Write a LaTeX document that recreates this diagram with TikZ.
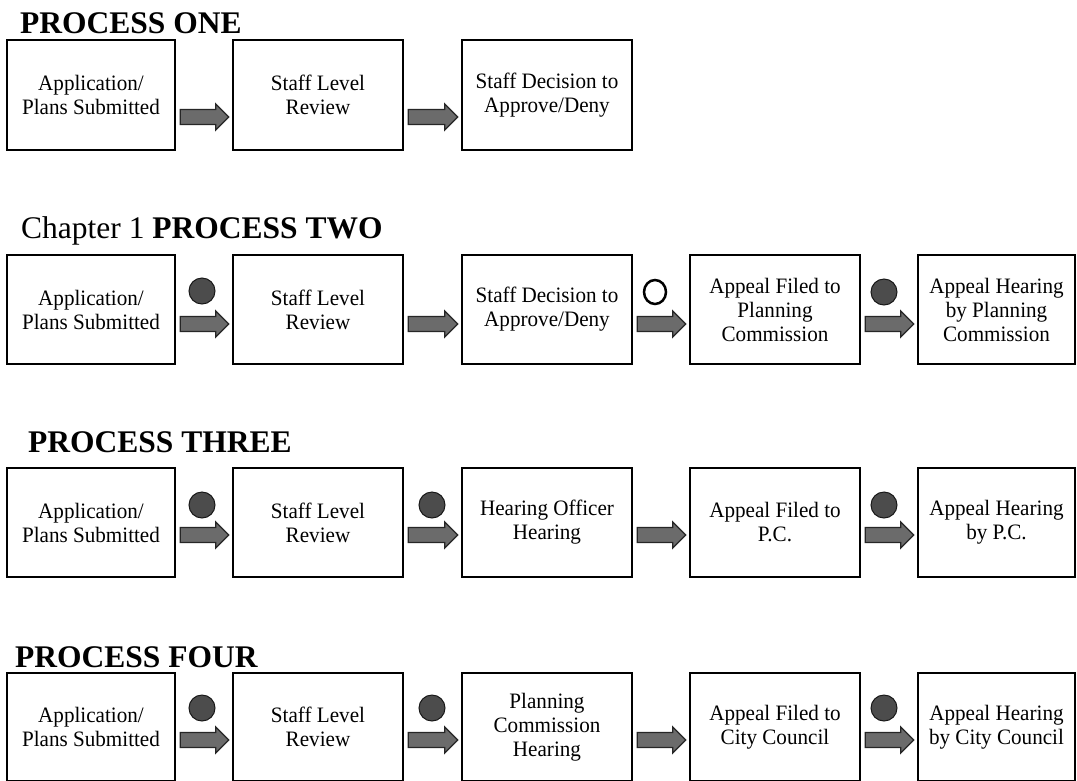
\documentclass[tikz,border=0pt]{standalone}
\usepackage{fontspec}
\setmainfont{Liberation Serif}
\newfontfamily\boxfont[FakeStretch=0.96]{Liberation Serif}
\usetikzlibrary{calc,shapes.geometric}
\tikzset{
  box/.style={draw=black, line width=2.6pt, fill=white, align=center,
    font=\boxfont\fontsize{22}{24}\selectfont, inner sep=0pt},
  ttl/.style={anchor=base west, inner sep=0pt, font=\fontsize{31.5}{36}\selectfont},
  barrow/.style={draw=black!85, line width=1.3pt, fill=black!58, line join=miter},
  dot/.style={circle, draw=black!90, line width=1pt, fill=black!70, minimum size=26pt, inner sep=0pt},
  odot/.style={ellipse, draw=black, line width=2.5pt, minimum width=22pt, minimum height=24pt, inner sep=0pt},
}
% #1 from node, #2 to node, #3 vertical offset of the arrow axis below the box centre
\newcommand\blockarr[3]{%
  \draw[barrow] ($(#1.east)+(4,#3-7.5)$) -- ($(#2.west)+(-16,#3-7.5)$)
    -- ($(#2.west)+(-16,#3-13)$) -- ($(#2.west)+(-3,#3)$)
    -- ($(#2.west)+(-16,#3+13)$) -- ($(#2.west)+(-16,#3+7.5)$)
    -- ($(#1.east)+(4,#3+7.5)$) -- cycle;}
\begin{document}
\begin{tikzpicture}[x=1pt,y=-1pt]
\useasboundingbox (0,0) rectangle (1077,780);
\fill[white] (0,0) rectangle (1077,780);

% ---------------- PROCESS ONE ----------------
\node[ttl] (t1) at (20,33) {\bfseries PROCESS ONE};
\node[box, minimum width=168pt, minimum height=110pt] (a1) at (91,95) {Application/\\Plans Submitted};
\node[box, minimum width=170pt, minimum height=110pt] (a2) at (318,95) {Staff Level\\Review};
\node[box, minimum width=170pt, minimum height=110pt] (a3) at (547,95) {Staff Decision to\\Approve/Deny};
\blockarr{a1}{a2}{22}
\blockarr{a2}{a3}{22}

% ---------------- PROCESS TWO ----------------
\node[ttl] (t2) at (21,238) {Chapter 1 \textbf{PROCESS TWO}};
\node[box, minimum width=168pt, minimum height=109pt] (b1) at (91,309.5) {Application/\\Plans Submitted};
\node[box, minimum width=170pt, minimum height=109pt] (b2) at (318,309.5) {Staff Level\\Review};
\node[box, minimum width=170pt, minimum height=109pt] (b3) at (547,309.5) {Staff Decision to\\Approve/Deny};
\node[box, minimum width=170pt, minimum height=109pt] (b4) at (775,309.5) {Appeal Filed to\\Planning\\Commission};
\node[box, minimum width=157pt, minimum height=109pt] (b5) at (996.5,309.5) {Appeal Hearing\\by Planning\\Commission};
\blockarr{b1}{b2}{14.5}
\blockarr{b2}{b3}{14.5}
\blockarr{b3}{b4}{14.5}
\blockarr{b4}{b5}{14.5}
\node[dot] (bd1) at (202,291) {};
\node[odot] (bd3) at (655,292) {};
\node[dot] (bd4) at (884,292) {};

% ---------------- PROCESS THREE ----------------
\node[ttl] (t3) at (28,452) {\bfseries PROCESS THREE};
\node[box, minimum width=168pt, minimum height=109pt] (c1) at (91,522.5) {Application/\\Plans Submitted};
\node[box, minimum width=170pt, minimum height=109pt] (c2) at (318,522.5) {Staff Level\\Review};
\node[box, minimum width=170pt, minimum height=109pt] (c3) at (547,522.5) {Hearing Officer\\Hearing};
\node[box, minimum width=170pt, minimum height=109pt] (c4) at (775,522.5) {Appeal Filed to\\P.C.};
\node[box, minimum width=157pt, minimum height=109pt] (c5) at (996.5,522.5) {Appeal Hearing\\by P.C.};
\blockarr{c1}{c2}{12.5}
\blockarr{c2}{c3}{12.5}
\blockarr{c3}{c4}{12.5}
\blockarr{c4}{c5}{12.5}
\node[dot] (cd1) at (202,505) {};
\node[dot] (cd2) at (432,505) {};
\node[dot] (cd4) at (884,505) {};

% ---------------- PROCESS FOUR ----------------
\node[ttl] (t4) at (15,667) {\bfseries PROCESS FOUR};
\node[box, minimum width=168pt, minimum height=108pt] (d1) at (91,727) {Application/\\Plans Submitted};
\node[box, minimum width=170pt, minimum height=108pt] (d2) at (318,727) {Staff Level\\Review};
\node[box, minimum width=170pt, minimum height=108pt] (d3) at (547,727) {Planning\\Commission\\Hearing};
\node[box, minimum width=170pt, minimum height=108pt] (d4) at (775,727) {Appeal Filed to\\City Council};
\node[box, minimum width=157pt, minimum height=108pt] (d5) at (996.5,727) {Appeal Hearing\\by City Council};
\blockarr{d1}{d2}{13}
\blockarr{d2}{d3}{13}
\blockarr{d3}{d4}{13}
\blockarr{d4}{d5}{13}
\node[dot] (dd1) at (202,708) {};
\node[dot] (dd2) at (432,708) {};
\node[dot] (dd4) at (884,708) {};
\end{tikzpicture}
\end{document}
